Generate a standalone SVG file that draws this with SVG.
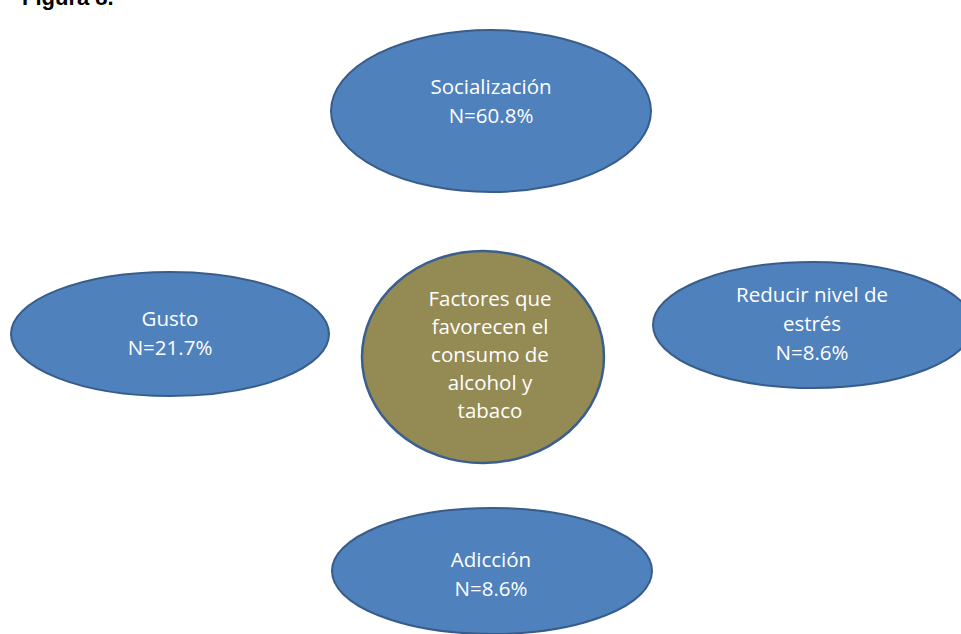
<svg xmlns="http://www.w3.org/2000/svg" width="961" height="634" viewBox="0 0 961 634">
<style>
.node{fill:#4F81BD;stroke:#385D8A;stroke-width:2}
.core{fill:#948A54;stroke:#3A5F8E;stroke-width:2.5}
.lbl{font-family:"Open Sans","Liberation Sans",sans-serif;font-size:20.5px;fill:#FFFFFF;text-anchor:middle}
.title{font-family:"Liberation Sans",Arial,sans-serif;font-size:22px;font-weight:bold;fill:#000000}
</style>
<rect width="961" height="634" fill="#FFFFFF"/>
<text class="title" x="22" y="4.5">Figura 8.</text>
<g id="connectors"></g>
<g id="socializacion">
<ellipse class="node" cx="491" cy="111" rx="160" ry="81"/>
<text class="lbl" x="491" y="94">Socialización</text>
<text class="lbl" x="491" y="123">N=60.8%</text>
</g>
<g id="gusto">
<ellipse class="node" cx="170" cy="334" rx="159" ry="62"/>
<text class="lbl" x="170" y="326">Gusto</text>
<text class="lbl" x="170" y="355">N=21.7%</text>
</g>
<g id="reducir">
<ellipse class="node" cx="813" cy="325" rx="160" ry="63"/>
<text class="lbl" x="812" y="302">Reducir nivel de</text>
<text class="lbl" x="812" y="331">estrés</text>
<text class="lbl" x="812" y="360">N=8.6%</text>
</g>
<g id="factores">
<ellipse class="core" cx="483" cy="357" rx="121" ry="106"/>
<text class="lbl" x="490" y="306">Factores que</text>
<text class="lbl" x="490" y="334">favorecen el</text>
<text class="lbl" x="490" y="362">consumo de</text>
<text class="lbl" x="490" y="390">alcohol y</text>
<text class="lbl" x="490" y="418">tabaco</text>
</g>
<g id="adiccion">
<ellipse class="node" cx="492" cy="571" rx="160" ry="63"/>
<text class="lbl" x="491" y="567">Adicción</text>
<text class="lbl" x="491" y="596">N=8.6%</text>
</g>
</svg>
